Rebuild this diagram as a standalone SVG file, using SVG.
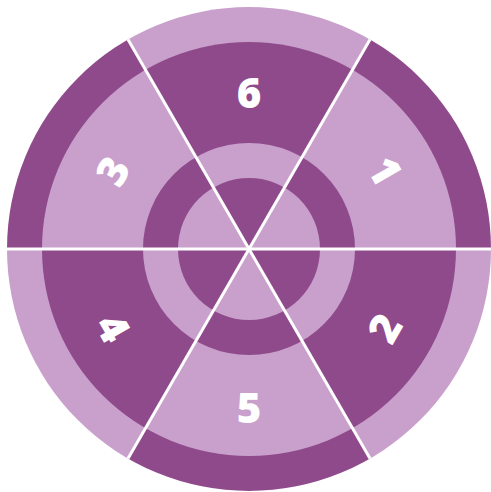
<svg xmlns="http://www.w3.org/2000/svg" xmlns:xlink="http://www.w3.org/1999/xlink" width="491" height="492" viewBox="0 0 491 492">
  <style>
    .dk { fill: #8f4a8c; }
    .lt { fill: #c9a0cc; }
    .num { font-family: "Open Sans", "Liberation Sans", sans-serif; font-weight: 800; font-size: 42px; fill: #ffffff; text-anchor: middle; }
    .div { stroke: #ffffff; stroke-width: 3; fill: none; }
  </style>
  <defs>
    <g id="patA">
      <circle cx="249" cy="249" r="242" class="lt"/>
      <circle cx="249" cy="249" r="207" class="dk"/>
      <circle cx="249" cy="249" r="106" class="lt"/>
      <circle cx="249" cy="249" r="71" class="dk"/>
    </g>
    <g id="patB">
      <circle cx="249" cy="249" r="242" class="dk"/>
      <circle cx="249" cy="249" r="207" class="lt"/>
      <circle cx="249" cy="249" r="106" class="dk"/>
      <circle cx="249" cy="249" r="71" class="lt"/>
    </g>
    <clipPath id="w1"><polygon points="249,249 549,249 399,-10.8"/></clipPath>
    <clipPath id="w6"><polygon points="249,249 399,-10.8 99,-10.8"/></clipPath>
    <clipPath id="w3"><polygon points="249,249 99,-10.8 -51,249"/></clipPath>
    <clipPath id="w4"><polygon points="249,249 -51,249 99,508.8"/></clipPath>
    <clipPath id="w5"><polygon points="249,249 99,508.8 399,508.8"/></clipPath>
    <clipPath id="w2"><polygon points="249,249 399,508.8 549,249"/></clipPath>
  </defs>
  <rect width="491" height="492" fill="#ffffff"/>
  <g id="sector-1">
    <use xlink:href="#patB" clip-path="url(#w1)"/>
    <text class="num" transform="translate(385,171) rotate(60)" y="15">1</text>
  </g>
  <g id="sector-2">
    <use xlink:href="#patA" clip-path="url(#w2)"/>
    <text class="num" transform="translate(385,328) rotate(-60)" y="15">2</text>
  </g>
  <g id="sector-3">
    <use xlink:href="#patB" clip-path="url(#w3)"/>
    <text class="num" transform="translate(113,171) rotate(-60)" y="15">3</text>
  </g>
  <g id="sector-4">
    <use xlink:href="#patA" clip-path="url(#w4)"/>
    <text class="num" transform="translate(113,328) rotate(60)" y="15">4</text>
  </g>
  <g id="sector-5">
    <use xlink:href="#patB" clip-path="url(#w5)"/>
    <text class="num" x="249" y="423">5</text>
  </g>
  <g id="sector-6">
    <use xlink:href="#patA" clip-path="url(#w6)"/>
    <text class="num" x="249" y="108">6</text>
  </g>
  <g id="dividers">
    <line class="div" x1="7" y1="249" x2="491" y2="249"/>
    <line class="div" x1="370" y1="39.4" x2="128" y2="458.6"/>
    <line class="div" x1="128" y1="39.4" x2="370" y2="458.6"/>
  </g>
</svg>
